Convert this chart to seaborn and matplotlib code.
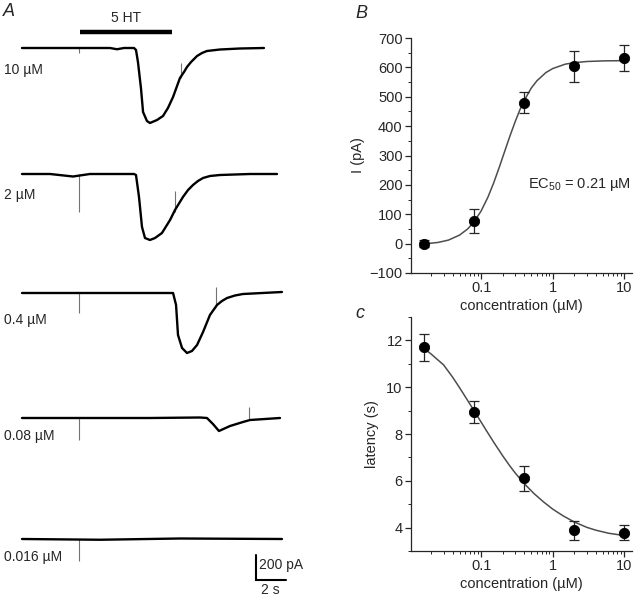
import numpy as np
import matplotlib
matplotlib.use('Agg')
import matplotlib.pyplot as plt
import seaborn as sns
from matplotlib.ticker import LogLocator, NullFormatter, MultipleLocator

sns.set_style('ticks')
plt.rcParams['font.family'] = ['Liberation Sans', 'DejaVu Sans']
plt.rcParams['mathtext.fontset'] = 'custom'
plt.rcParams['mathtext.rm'] = 'Liberation Sans'
plt.rcParams['axes.linewidth'] = 0.9
plt.rcParams['xtick.major.width'] = 0.9
plt.rcParams['ytick.major.width'] = 0.9
plt.rcParams['xtick.minor.width'] = 0.7
plt.rcParams['ytick.minor.width'] = 0.7

# --- panel A: current traces (time in s, current in pA, relative to baseline) ---
t_10 = [0, 3.8, 5.87, 6.33, 6.8, 7.47, 7.6, 7.73, 7.93, 8.07, 8.33, 8.53, 9.0, 9.4,
        9.73, 10.07, 10.53, 10.8, 11.0, 11.27, 11.67, 12.0, 12.33, 13.2, 14.53, 16.13]
i_10 = [0, 0, 0, -10, 0, 0, -16, -112, -320, -512, -584, -600, -576, -544,
        -480, -392, -240, -192, -152, -112, -64, -40, -24, -12, -4, 0]
t_2 = [0, 1.87, 3.4, 4.53, 7.47, 7.6, 7.8, 8.0, 8.2, 8.53, 8.87, 9.33, 9.87, 10.2,
       10.73, 11.07, 11.4, 11.73, 12.07, 12.53, 13.2, 15.2, 17.0]
i_2 = [0, 0, -20, 0, 0, -8, -184, -424, -512, -528, -512, -472, -368, -288,
       -184, -128, -88, -56, -32, -16, -8, 0, 0]
t_04 = [0, 5.2, 10.07, 10.27, 10.4, 10.67, 11.0, 11.33, 11.67, 12.07, 12.53, 13.0,
        13.33, 13.67, 14.2, 14.73, 17.33]
i_04 = [0, 0, 0, -96, -336, -440, -480, -464, -416, -312, -176, -96,
        -64, -40, -20, -8, 8]
t_008 = [0, 8.53, 11.87, 12.33, 12.73, 13.13, 13.87, 14.73, 15.2, 17.2]
i_008 = [0, 0, 4, 0, -48, -104, -64, -32, -16, 0]
t_0016 = [0, 5.2, 10.53, 17.33]
i_0016 = [0, -6, 4, 0]

trace_t = [t_10, t_2, t_04, t_008, t_0016]
trace_i = [i_10, i_2, i_04, i_008, i_0016]
trace_labels = ['10 µM', '2 µM', '0.4 µM', '0.08 µM', '0.016 µM']
trace_base = [0, -1008, -1960, -2960, -3928]

# switching artifacts: (time, top, bottom) in pA relative to baseline
art_on_t = 3.8
art_on_bot = [-40, -304, -160, -176, -176]
art_off_t = [10.6, 10.2, 12.93, 15.13]
art_off_top = [-120, -136, 48, 88]
art_off_bot = [-240, -304, -112, -16]

drug_on, drug_off = 3.87, 10.0

# --- panel B: peak current ---
conc = [0.016, 0.08, 0.4, 2, 10]
cur = [0, 77, 480, 603, 632]
cur_err = [12, 40, 36, 52, 43]
fit_x_b = [0.016, 0.025, 0.035, 0.05, 0.065, 0.08, 0.1, 0.125, 0.15, 0.18, 0.21, 0.25,
           0.3, 0.35, 0.4, 0.5, 0.6, 0.8, 1.0, 1.5, 2, 3, 5, 10]
fit_y_b = [-1, 4, 12, 29, 50, 75, 111, 159, 207, 261, 309, 363,
           416, 457, 487, 529, 554, 582, 596, 611, 616, 620, 622, 623]

# --- panel C: latency ---
lat = [11.7, 8.92, 6.1, 3.88, 3.78]
lat_err = [0.58, 0.47, 0.55, 0.4, 0.33]
fit_x_c = [0.016, 0.02, 0.03, 0.04, 0.05, 0.065, 0.08, 0.1, 0.12, 0.15, 0.2, 0.25,
           0.3, 0.4, 0.55, 0.75, 1.0, 1.4, 2.0, 3.0, 4.0, 6.0, 10.0]
fit_y_c = [11.65, 11.42, 10.95, 10.43, 9.98, 9.43, 8.99, 8.51, 8.12, 7.65, 7.07, 6.65,
           6.33, 5.88, 5.45, 5.09, 4.79, 4.5, 4.24, 4.01, 3.89, 3.76, 3.66]

W, H = 635, 598
fig = plt.figure(figsize=(W / 100, H / 100), dpi=100)


def fx(px):
    return px / W


def fy(py):
    return 1 - py / H


# panel A
axA = fig.add_axes([0, 0, 300 / W, 1])
axA.set_xlim(-22 / 15, 278 / 15)
axA.set_ylim(-4400, 384)
axA.axis('off')

for k in range(5):
    b = trace_base[k]
    axA.vlines(art_on_t, b, b + art_on_bot[k], color='0.45', lw=0.8, zorder=1)
    if k < 4:
        axA.vlines(art_off_t[k], b + art_off_top[k], b + art_off_bot[k],
                   color='0.45', lw=0.8, zorder=1)
    sns.lineplot(x=trace_t[k], y=np.array(trace_i[k]) + b, ax=axA, color='k',
                 lw=1.7, sort=False, estimator=None, zorder=2)

axA.plot([drug_on, drug_off], [128, 128], color='k', lw=3.2, solid_capstyle='butt')
axA.text((drug_on + drug_off) / 2, 240, '5 HT', ha='center', va='center', fontsize=10)

# scale bar
sb_t, sb_i = 15.6, -4256
axA.plot([sb_t, sb_t, sb_t + 2], [sb_i + 200, sb_i, sb_i], color='k', lw=1.5,
         solid_joinstyle='miter')

label_y = [70, 195, 320, 436, 557]
for lab, py in zip(trace_labels, label_y):
    fig.text(fx(4), fy(py), lab, ha='left', va='center', fontsize=10)
fig.text(fx(259), fy(565), '200 pA', ha='left', va='center', fontsize=10)
fig.text(fx(270), fy(590), '2 s', ha='center', va='center', fontsize=10)
fig.text(fx(3), fy(12), 'A', ha='left', va='center', fontsize=13, style='italic')
fig.text(fx(355), fy(13), 'B', ha='left', va='center', fontsize=13, style='italic')
fig.text(fx(355), fy(314), 'c', ha='left', va='center', fontsize=13, style='italic')


def style_log_x(ax):
    ax.set_xscale('log')
    ax.set_xlim(0.0105, 12.8)
    ax.set_xticks([0.1, 1, 10], ['0.1', '1', '10'])
    ax.xaxis.set_minor_locator(LogLocator(base=10, subs=np.arange(2, 10)))
    ax.xaxis.set_minor_formatter(NullFormatter())
    ax.tick_params(which='major', length=4, labelsize=10.5, pad=2)
    ax.tick_params(which='minor', length=2)
    ax.set_xlabel('concentration (µM)', fontsize=10.5)
    ax.xaxis.set_label_coords(0.5, -26 / 234)
    sns.despine(ax=ax)


# panel B
axB = fig.add_axes([fx(411), fy(273), (632 - 411) / W, (273 - 38) / H])
sns.lineplot(x=fit_x_b, y=fit_y_b, ax=axB, color='0.3', lw=1.1, estimator=None)
axB.errorbar(conc, cur, yerr=cur_err, fmt='none', ecolor='0.15', elinewidth=0.9,
             capsize=3.4, capthick=0.9)
sns.scatterplot(x=conc, y=cur, ax=axB, color='k', s=55, edgecolor='k', zorder=3)
style_log_x(axB)
axB.set_ylim(-100, 700)
axB.yaxis.set_major_locator(MultipleLocator(100))
axB.yaxis.set_minor_locator(MultipleLocator(50))
axB.set_ylabel('I (pA)', fontsize=10.5)
axB.yaxis.set_label_coords(-46 / 221, 0.5)
axB.text(0.995, 0.375, 'EC$_{50}$ = 0.21 µM', transform=axB.transAxes,
         ha='right', va='center', fontsize=10.5)

# panel C
axC = fig.add_axes([fx(411), fy(551), (632 - 411) / W, (551 - 317) / H])
sns.lineplot(x=fit_x_c, y=fit_y_c, ax=axC, color='0.3', lw=1.1, estimator=None)
axC.errorbar(conc, lat, yerr=lat_err, fmt='none', ecolor='0.15', elinewidth=0.9,
             capsize=3.4, capthick=0.9)
sns.scatterplot(x=conc, y=lat, ax=axC, color='k', s=55, edgecolor='k', zorder=3)
style_log_x(axC)
axC.set_ylim(3, 13)
axC.yaxis.set_major_locator(MultipleLocator(2))
axC.yaxis.set_minor_locator(MultipleLocator(1))
axC.set_ylabel('latency (s)', fontsize=10.5)
axC.yaxis.set_label_coords(-32 / 221, 0.5)

for ax in (axB, axC):
    ax.tick_params(axis='y', which='major', length=4, labelsize=10.5)
    ax.tick_params(axis='y', which='minor', length=2)

fig.savefig('out.png', dpi=100)
